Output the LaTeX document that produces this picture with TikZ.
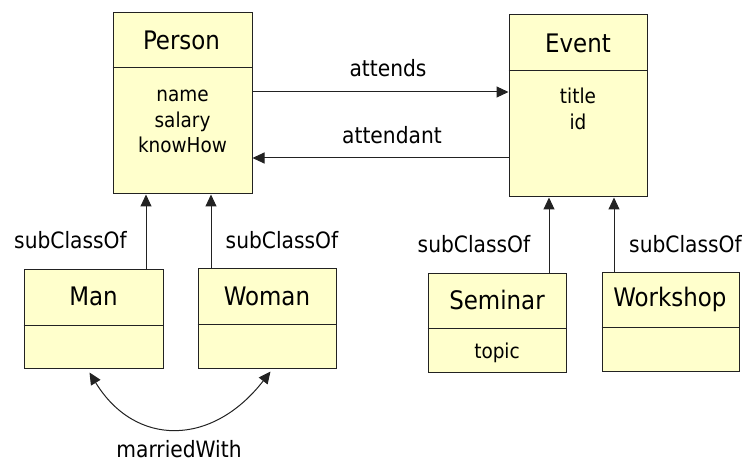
\documentclass[tikz,border=0pt]{standalone}
\usepackage{fontspec}
\setmainfont{DejaVu Sans Condensed}
\usetikzlibrary{arrows.meta,fit,calc}

\definecolor{classfill}{HTML}{FFFFCC}
\definecolor{edge}{HTML}{222222}

\tikzset{
  classbox/.style={draw=edge, fill=classfill, line width=1pt, inner sep=0pt},
  divider/.style={draw=edge, line width=1pt},
  ctitle/.style={anchor=base, inner sep=0pt, font=\fontsize{25.5}{27}\selectfont},
  cattr/.style={anchor=base, inner sep=0pt, font=\fontsize{20.5}{24}\selectfont},
  rlabel/.style={anchor=base, inner sep=0pt, font=\fontsize{22.5}{26}\selectfont},
  rel/.style={draw=edge, line width=1pt, -{Triangle[length=12pt,width=11pt]}},
  relboth/.style={draw=edge, line width=1pt, {Triangle[length=12pt,width=11pt]}-{Triangle[length=12pt,width=11pt]}},
}

\begin{document}
\begin{tikzpicture}[x=1pt, y=-1pt]
\useasboundingbox (0,0) rectangle (746,462);

% class boxes
\node[classbox, fit={(113,13) (252,194)}] (person) {};
\node[classbox, fit={(509,15) (647,197)}] (event) {};
\node[classbox, fit={(24,269) (163,368)}] (man) {};
\node[classbox, fit={(198,268) (336,368)}] (woman) {};
\node[classbox, fit={(428,273) (566,372)}] (seminar) {};
\node[classbox, fit={(602,272) (739,371)}] (workshop) {};

% compartment dividers
\draw[divider] (person.west |- 0,68) -- (person.east |- 0,68);
\draw[divider] (event.west |- 0,71) -- (event.east |- 0,71);
\draw[divider] (man.west |- 0,325) -- (man.east |- 0,325);
\draw[divider] (woman.west |- 0,324) -- (woman.east |- 0,324);
\draw[divider] (seminar.west |- 0,328) -- (seminar.east |- 0,328);
\draw[divider] (workshop.west |- 0,327) -- (workshop.east |- 0,327);

% class names
\node[ctitle] (personName) at (181.5,50) {Person};
\node[ctitle] (eventName) at (578,52.3) {Event};
\node[ctitle] (manName) at (93.5,305) {Man};
\node[ctitle] (womanName) at (267,305.7) {Woman};
\node[ctitle] (seminarName) at (497,309.3) {Seminar};
\node[ctitle] (workshopName) at (670,306.7) {Workshop};

% attributes
\node[cattr] (pName) at (182.5,101.7) {name};
\node[cattr] (pSalary) at (182.5,127.2) {salary};
\node[cattr] (pKnow) at (182.5,153) {knowHow};
\node[cattr] (eTitle) at (578,103.3) {title};
\node[cattr] (eId) at (578,129.3) {id};
\node[cattr] (sTopic) at (497,358) {topic};

% associations between Person and Event
\draw[rel] (person.east |- 0,92) -- (event.west |- 0,92);
\draw[rel] (event.west |- 0,158) -- (person.east |- 0,158);
\node[rlabel] (attendsLbl) at (388,76.7) {attends};
\node[rlabel] (attendantLbl) at (392,144) {attendant};

% subclass links
\draw[rel] (man.north -| 146,0) -- (person.south -| 146,0);
\draw[rel] (woman.north -| 211,0) -- (person.south -| 211,0);
\draw[rel] (seminar.north -| 549,0) -- (event.south -| 549,0);
\draw[rel] (workshop.north -| 614,0) -- (event.south -| 614,0);
\node[rlabel] (subManLbl) at (70.5,248.3) {subClassOf};
\node[rlabel] (subWomanLbl) at (282,248.3) {subClassOf};
\node[rlabel] (subSemLbl) at (474,252.7) {subClassOf};
\node[rlabel] (subWorkLbl) at (685.5,252.7) {subClassOf};

% marriage relation
\coordinate (mEnd) at ([shift={(-4,4)}]man.south);
\coordinate (wEnd) at ([shift={(3.5,3)}]woman.south);
\draw[relboth] (mEnd) .. controls (135,447) and (212,447) .. (wEnd);
\node[rlabel] (marriedLbl) at (179,457.5) {marriedWith};
\end{tikzpicture}
\end{document}
